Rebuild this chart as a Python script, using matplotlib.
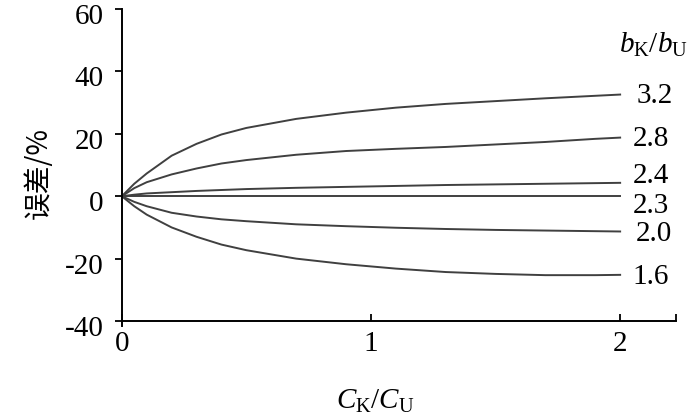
import matplotlib
matplotlib.use("Agg")
import matplotlib.pyplot as plt
import matplotlib.transforms as mtransforms

plt.rcParams['mathtext.fontset'] = 'custom'
plt.rcParams['mathtext.rm'] = 'Liberation Serif'
plt.rcParams['mathtext.it'] = 'Liberation Serif:italic'

x_vals = [0, 0.05, 0.1, 0.2, 0.3, 0.4, 0.5, 0.7, 0.9, 1.1, 1.3, 1.5, 1.7, 1.9, 2.0]
ratios = ["3.2", "2.8", "2.4", "2.3", "2.0", "1.6"]
series = {
    "3.2": [0, 4.0, 7.3, 13.0, 16.8, 19.8, 21.9, 24.8, 26.8, 28.4, 29.6, 30.5, 31.4, 32.2, 32.6],
    "2.8": [0, 2.6, 4.5, 7.0, 8.9, 10.5, 11.6, 13.3, 14.5, 15.2, 15.8, 16.6, 17.4, 18.4, 18.8],
    "2.4": [0, 0.5, 0.9, 1.3, 1.7, 2.0, 2.3, 2.7, 3.0, 3.3, 3.6, 3.8, 4.0, 4.2, 4.3],
    "2.3": [0, 0, 0, 0, 0, 0, 0, 0, 0, 0, 0, 0, 0, 0, 0],
    "2.0": [0, -1.8, -3.2, -5.3, -6.5, -7.4, -8.0, -9.0, -9.6, -10.1, -10.5, -10.8, -11.0, -11.2, -11.3],
    "1.6": [0, -3.2, -5.9, -10.0, -13.0, -15.5, -17.3, -20.0, -21.8, -23.2, -24.3, -24.9, -25.3, -25.3, -25.2],
}
label_pos = {"3.2": (2.065, 30.0), "2.8": (2.05, 16.1), "2.4": (2.05, 4.2),
             "2.3": (2.05, -5.5), "2.0": (2.063, -14.5), "1.6": (2.05, -28.0)}
x_ticks = [0, 1, 2]
y_ticks = [-40, -20, 0, 20, 40, 60]

fig = plt.figure(figsize=(7, 4.17), dpi=100)
ax = fig.add_axes([0.174, 0.2302, 0.792, 0.748])
for r in ratios:
    ax.plot(x_vals, series[r], color='#404040', lw=1.4)
    lx, ly = label_pos[r]
    ax.text(lx, ly, r, fontsize=21, family='Liberation Serif',
            ha='left', va='baseline')
ax.text(1.995, 46.0, r'$b_{\mathrm{K}}/b_{\mathrm{U}}$', fontsize=21,
        ha='left', va='baseline')

ax.set_xlim(0, 2.225)
ax.set_ylim(-40, 60)
ax.set_xticks(x_ticks)
ax.set_xticks([2.225], minor=True)
ax.set_yticks(y_ticks)
ax.set_xticklabels([str(v) for v in x_ticks], fontsize=21, family='Liberation Serif')
ax.set_yticklabels([str(v) for v in y_ticks], fontsize=21, family='Liberation Serif')
ax.tick_params(axis='x', which='both', direction='in', length=5, width=1.3, pad=7)
ax.tick_params(axis='y', direction='out', length=5, width=1.3, pad=8)
offset = mtransforms.ScaledTranslation(0, -0.05, fig.dpi_scale_trans)
for lbl in ax.get_yticklabels():
    lbl.set_transform(lbl.get_transform() + offset)
for s in ['top', 'right']:
    ax.spines[s].set_visible(False)
for s in ['left', 'bottom']:
    ax.spines[s].set_linewidth(1.4)
ax.spines['left'].set_bounds(-41.5, 60)

ax.set_ylabel('误差/%', fontsize=20, family=['Noto Sans CJK SC', 'DejaVu Sans'],
              fontweight='light')
ax.yaxis.set_label_coords(-0.123, 0.473)
ax.set_xlabel(r'$C_{\mathrm{K}}/C_{\mathrm{U}}$', fontsize=21)
ax.xaxis.set_label_coords(0.457, -0.21)

fig.savefig('out.png', dpi=100)
